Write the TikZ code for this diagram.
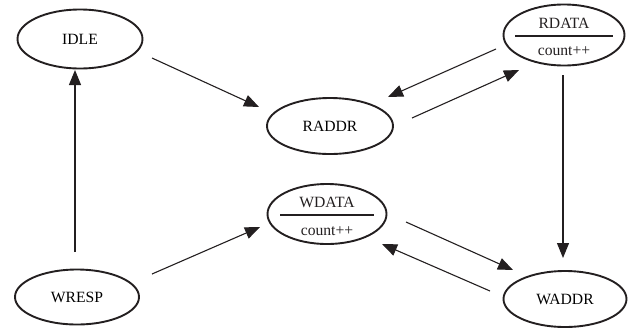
\documentclass[tikz,border=0pt]{standalone}
\usepackage{fontspec}
\setmainfont{Liberation Serif}
\usetikzlibrary{shapes.geometric,arrows.meta,calc}
\definecolor{ink}{RGB}{35,31,32}
\tikzset{
  state/.style={ellipse, draw=ink, line width=1.9bp, inner sep=0pt},
  lbl/.style={inner sep=0pt, text=ink},
  arr/.style={draw=ink, line width=1.1bp, -{Triangle[length=15bp,width=12bp]}},
  split/.style={draw=ink, line width=1.1bp}
}
\begin{document}
\begin{tikzpicture}[x=1bp,y=-1bp,font=\fontsize{15.7}{18}\selectfont]
\useasboundingbox (0,0) rectangle (634,330);
% states
\node[state, minimum width=125bp, minimum height=59bp] (idle) at (80,39) {IDLE};
\node[state, minimum width=126bp, minimum height=56bp] (raddr) at (330,126) {RADDR};
\node[state, minimum width=121bp, minimum height=61bp] (rdata) at (564,35) {};
\node[state, minimum width=119bp, minimum height=60bp] (wdata) at (327,214) {};
\node[state, minimum width=124bp, minimum height=55bp] (wresp) at (77,297) {WRESP};
\node[state, minimum width=123bp, minimum height=56bp] (waddr) at (565,299) {WADDR};
% split texts
\node[lbl] (rdataT) at ($(rdata.center)+(0,-12)$) {RDATA};
\node[lbl] (rdataB) at ($(rdata.center)+(0,16)$) {count++};
\draw[split] ($(rdata.center)+(-49,1)$) -- ($(rdata.center)+(49,1)$);
\node[lbl] (wdataT) at ($(wdata.center)+(0,-12)$) {WDATA};
\node[lbl] (wdataB) at ($(wdata.center)+(0,17)$) {count++};
\draw[split] ($(wdata.center)+(-47,1)$) -- ($(wdata.center)+(47,1)$);
% transitions
\draw[arr] ($(idle.center)+(72,19)$) -- ($(raddr.center)+(-71,-19)$);
\draw[arr] ($(rdata.center)+(-68,14)$) -- ($(raddr.center)+(58,-29)$);
\draw[arr] ($(raddr.center)+(82,-8)$) -- ($(rdata.center)+(-45,35)$);
\draw[arr] ($(rdata.center)+(-1,40)$) -- ($(waddr.center)+(-2,-41)$);
\draw[arr] ($(wresp.center)+(75,-23)$) -- ($(wdata.center)+(-67,13)$);
\draw[arr] ($(wdata.center)+(79,8)$) -- ($(waddr.center)+(-52,-29)$);
\draw[arr] ($(waddr.center)+(-75,-8)$) -- ($(wdata.center)+(55,30)$);
\draw[arr] ($(wresp.center)+(-2,-45)$) -- ($(idle.center)+(-5,31)$);
\end{tikzpicture}
\end{document}
